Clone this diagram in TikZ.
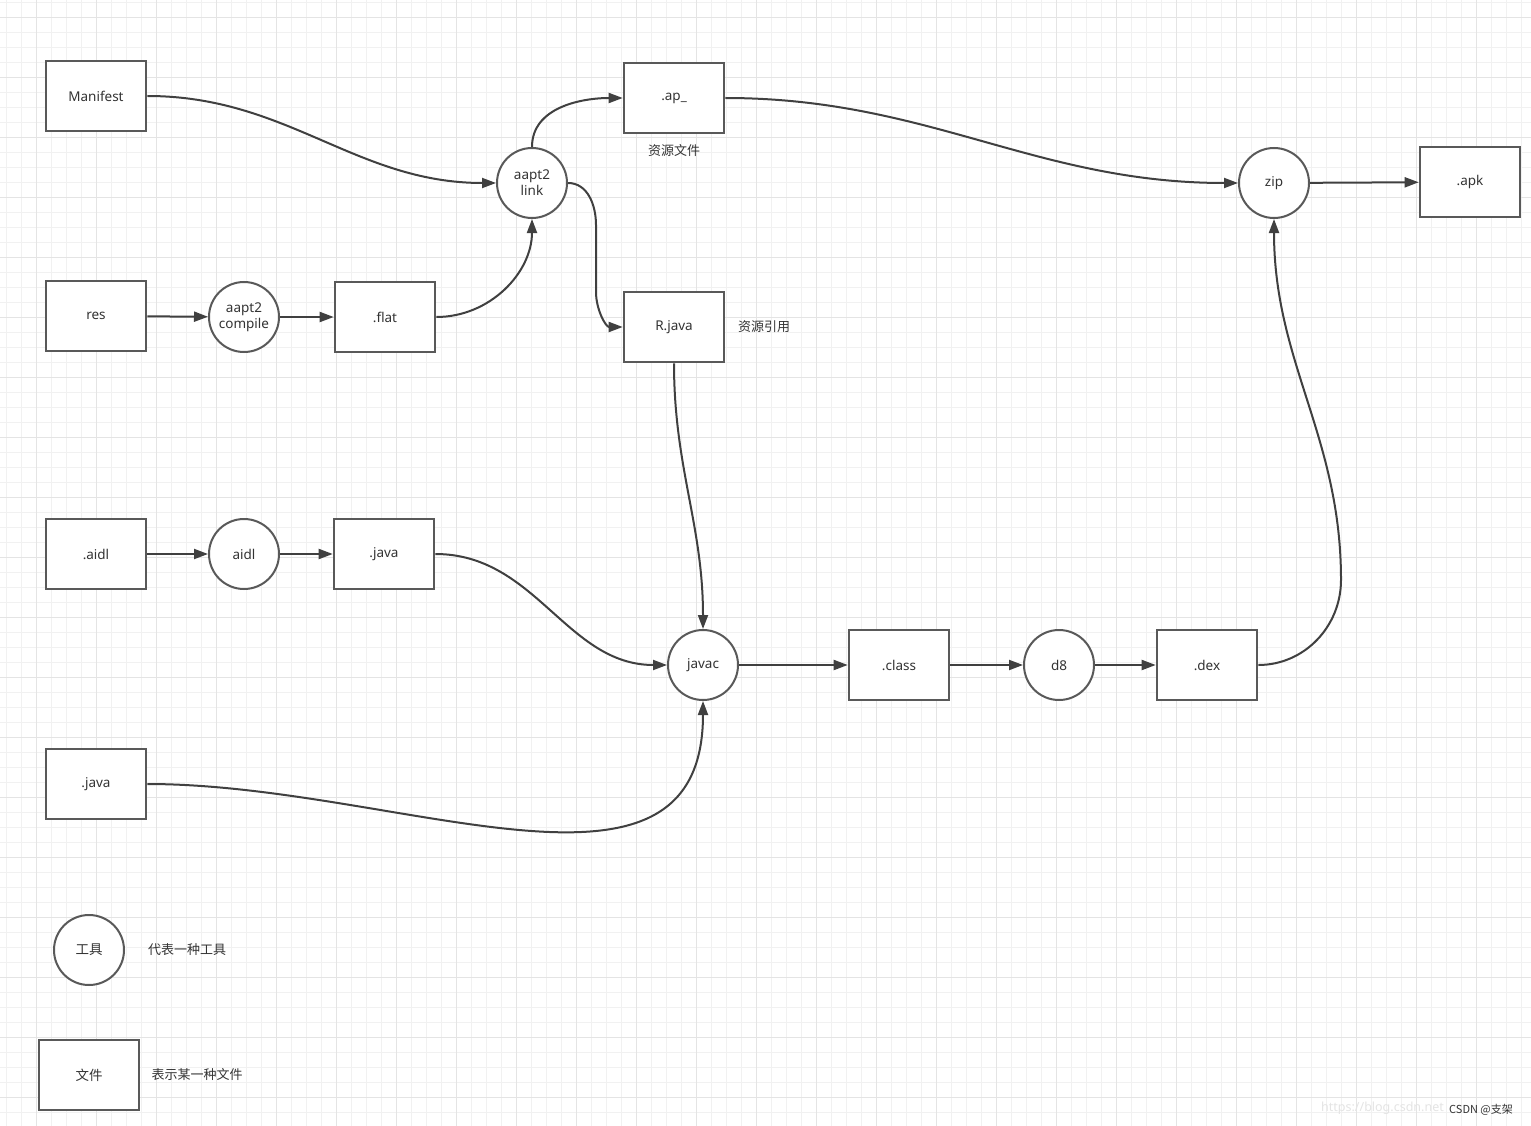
\documentclass[tikz,border=0pt]{standalone}
\usepackage{fontspec}
\setmainfont{Noto Sans}
\newfontfamily\cjk{Noto Sans CJK SC}
\usetikzlibrary{arrows.meta}
\definecolor{boxgray}{HTML}{595959}
\definecolor{linegray}{HTML}{404040}
\definecolor{textgray}{HTML}{333333}
\definecolor{gridminor}{HTML}{F1F1F1}
\definecolor{gridmajor}{HTML}{E4E4E4}

\begin{document}
\begin{tikzpicture}[x=1pt,y=-1pt,
    file/.style={draw=boxgray,line width=2.6pt,fill=white,minimum width=100pt,minimum height=70pt,inner sep=0pt,text=textgray,font=\fontsize{13.5}{15}\selectfont},
    tool/.style={circle,draw=boxgray,line width=2pt,fill=white,minimum size=70pt,inner sep=0pt,align=center,text=textgray,font=\fontsize{13.5}{16}\selectfont},
    flow/.style={draw=linegray,line width=2pt,-{Triangle[length=14pt,width=10pt]}},
    note/.style={text=textgray,font=\cjk\fontsize{13}{15}\selectfont}]
    % Background and grid
    \useasboundingbox[fill=white] (0,0) rectangle (1531,1126);
    \foreach \x in {6.7,21.7,...,1531} \draw[gridminor,line width=1pt] (\x,0) -- (\x,1126);
    \foreach \y in {2.7,17.7,...,1126} \draw[gridminor,line width=1pt] (0,\y) -- (1531,\y);
    \foreach \x in {36.7,96.7,...,1531} \draw[gridmajor,line width=1pt] (\x,0) -- (\x,1126);
    \foreach \y in {17.7,77.7,...,1126} \draw[gridmajor,line width=1pt] (0,\y) -- (1531,\y);

    % Resources
    \node[file] (manifest) at (96,96) {Manifest};
    \node[file] (res) at (96,316) {res};
    \node[tool] (compile) at (244,317) {aapt2\\compile};
    \node[file] (flat) at (385,317) {.flat};
    \node[tool] (link) at (532,183) {aapt2\\link};
    \node[file] (ap) at (674,98) {.ap\_};
    \node[note] (apnote) at (674,151) {资源文件};
    \node[file] (rjava) at (674,327) {R.java};
    \node[note] (rnote) at (764,327) {资源引用};

    % Sources
    \node[file] (aidlfile) at (96,554) {.aidl};
    \node[tool] (aidl) at (244,554) {aidl};
    \node[file] (javagen) at (384,554) {.java};
    \node[file] (javasrc) at (96,784) {.java};

    % Compile and package
    \node[tool] (javac) at (703,665) {javac};
    \node[file] (class) at (899,665) {.class};
    \node[tool] (d8) at (1059,665) {d8};
    \node[file] (dex) at (1207,665) {.dex};
    \node[tool] (zip) at (1274,183) {zip};
    \node[file] (apk) at (1470,182) {.apk};

    % Legend
    \node[tool] (toolkey) at (89,950) {\cjk 工具};
    \node[note] (toolnote) at (187,950) {代表一种工具};
    \node[file] (filekey) at (89,1075) {\cjk 文件};
    \node[note] (filenote) at (197,1075) {表示某一种文件};

    % Bend points
    \coordinate (rtop) at (596,225);
    \coordinate (rbot) at (596,292);
    \coordinate (dexup) at (1341,580);

    % Connectors
    \draw[flow] (manifest.east) to[out=0,in=180] (link.west);
    \draw[flow] (res) -- (compile);
    \draw[flow] (compile) -- (flat);
    \draw[flow] (flat.east) to[out=0,in=-90] (link.south);
    \draw[flow] (link.north) to[out=90,in=180] (ap.west);
    \draw[flow] (link.east) to[out=0,in=90] (rtop) -- (rbot) to[out=-90,in=180] (rjava.west);
    \draw[flow] (aidlfile) -- (aidl);
    \draw[flow] (aidl) -- (javagen);
    \draw[flow] (javagen.east) to[out=0,in=180] (javac.west);
    \draw[flow] (rjava.south) to[out=-90,in=90] (javac.north);
    \draw[flow] (javasrc.east) .. controls (400,784) and (703,930) .. (javac.south);
    \draw[flow] (javac) -- (class);
    \draw[flow] (class) -- (d8);
    \draw[flow] (d8) -- (dex);
    \draw[flow] (dex.east) to[out=0,in=-90] (dexup) to[out=90,in=-90] (zip.south);
    \draw[flow] (ap.east) to[out=0,in=180] (zip.west);
    \draw[flow] (zip) -- (apk);

    % Watermark
    \node[text=gridmajor,font=\fontsize{12.5}{14}\selectfont,anchor=east,inner sep=0pt] (url) at (1444,1108) {https://blog.csdn.net};
    \node[text=textgray,font=\cjk\fontsize{11}{13}\selectfont,anchor=west,inner sep=0pt] (mark) at (1449,1110) {CSDN @支架};
\end{tikzpicture}
\end{document}
